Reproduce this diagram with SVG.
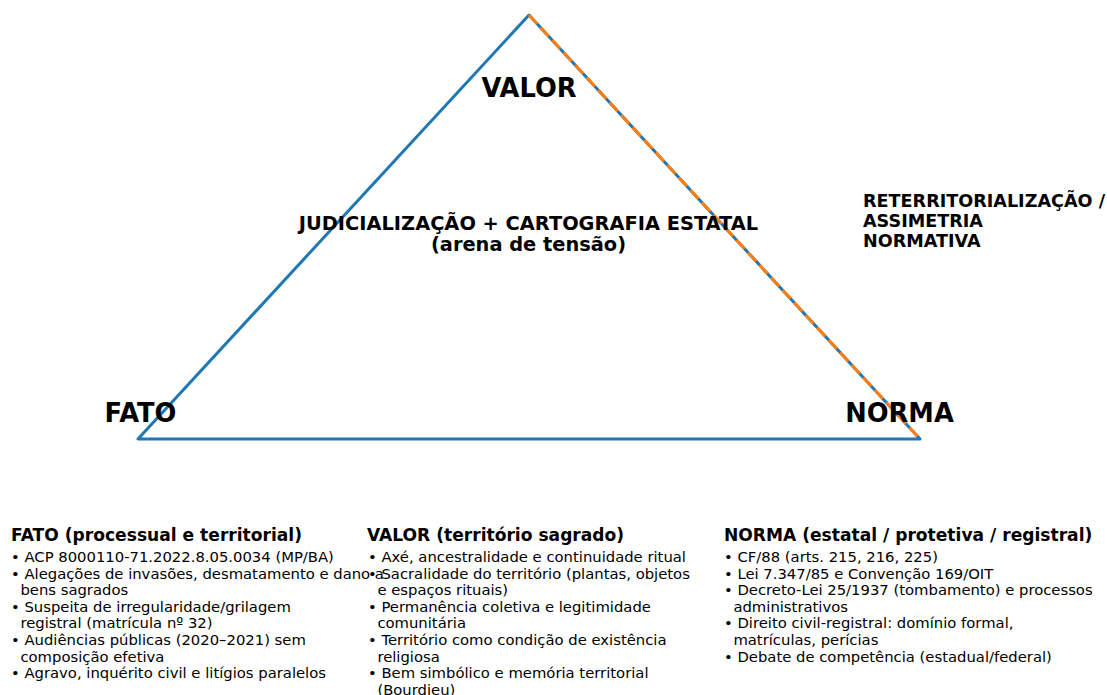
<svg xmlns="http://www.w3.org/2000/svg" width="1107" height="695" viewBox="0 0 1107 695">
<style>
.lbl{font-family:"DejaVu Sans",sans-serif;font-weight:bold;fill:#000}
.big{font-size:25.7px}
.mid{font-size:19.4px}
.hd{font-size:17.1px}
.sd{font-size:17.6px}
.bl{font-family:"DejaVu Sans",sans-serif;font-size:14.8px;fill:#000}
</style>
<rect width="1107" height="695" fill="#ffffff"/>
<g id="connectors">
<polygon points="529,15 138,439 920,439" fill="none" stroke="#1f77b4" stroke-width="3" stroke-linejoin="round"/>
<line x1="529" y1="15" x2="920" y2="439" stroke="#ff7f0e" stroke-width="3" stroke-dasharray="12 5"/>
</g>
<g id="node-valor"><text class="lbl big" x="529" y="97" text-anchor="middle">VALOR</text></g>
<g id="node-fato"><text class="lbl big" x="140.5" y="422" text-anchor="middle">FATO</text></g>
<g id="node-norma"><text class="lbl big" x="899.5" y="422" text-anchor="middle">NORMA</text></g>
<g id="center-label">
<text class="lbl mid" x="528.5" y="229.5" text-anchor="middle">JUDICIALIZAÇÃO + CARTOGRAFIA ESTATAL</text>
<text class="lbl mid" x="528.5" y="250.5" text-anchor="middle">(arena de tensão)</text>
</g>
<g id="side-label">
<text class="lbl sd" x="863" y="206.5">RETERRITORIALIZAÇÃO /</text>
<text class="lbl sd" x="863" y="226.5">ASSIMETRIA</text>
<text class="lbl sd" x="863" y="246.5">NORMATIVA</text>
</g>
<g id="legend-fato">
<text class="lbl hd" x="11" y="541">FATO (processual e territorial)</text>
<text class="bl" x="11" y="562">• ACP 8000110-71.2022.8.05.0034 (MP/BA)</text>
<text class="bl" x="11" y="578.6">• Alegações de invasões, desmatamento e dano a</text>
<text class="bl" x="20.4" y="595.2">bens sagrados</text>
<text class="bl" x="11" y="611.8">• Suspeita de irregularidade/grilagem</text>
<text class="bl" x="20.4" y="628.4">registral (matrícula nº 32)</text>
<text class="bl" x="11" y="645">• Audiências públicas (2020–2021) sem</text>
<text class="bl" x="20.4" y="661.6">composição efetiva</text>
<text class="bl" x="11" y="678.2">• Agravo, inquérito civil e litígios paralelos</text>
</g>
<g id="legend-valor">
<text class="lbl hd" x="367" y="541">VALOR (território sagrado)</text>
<text class="bl" x="368" y="562">• Axé, ancestralidade e continuidade ritual</text>
<text class="bl" x="368" y="578.6">• Sacralidade do território (plantas, objetos</text>
<text class="bl" x="377.4" y="595.2">e espaços rituais)</text>
<text class="bl" x="368" y="611.8">• Permanência coletiva e legitimidade</text>
<text class="bl" x="377.4" y="628.4">comunitária</text>
<text class="bl" x="368" y="645">• Território como condição de existência</text>
<text class="bl" x="377.4" y="661.6">religiosa</text>
<text class="bl" x="368" y="678.2">• Bem simbólico e memória territorial</text>
<text class="bl" x="377.4" y="694.8">(Bourdieu)</text>
</g>
<g id="legend-norma">
<text class="lbl hd" x="724" y="541">NORMA (estatal / protetiva / registral)</text>
<text class="bl" x="724" y="562">• CF/88 (arts. 215, 216, 225)</text>
<text class="bl" x="724" y="578.6">• Lei 7.347/85 e Convenção 169/OIT</text>
<text class="bl" x="724" y="595.2">• Decreto-Lei 25/1937 (tombamento) e processos</text>
<text class="bl" x="733.4" y="611.8">administrativos</text>
<text class="bl" x="724" y="628.4">• Direito civil-registral: domínio formal,</text>
<text class="bl" x="733.4" y="645">matrículas, perícias</text>
<text class="bl" x="724" y="661.6">• Debate de competência (estadual/federal)</text>
</g>
</svg>
